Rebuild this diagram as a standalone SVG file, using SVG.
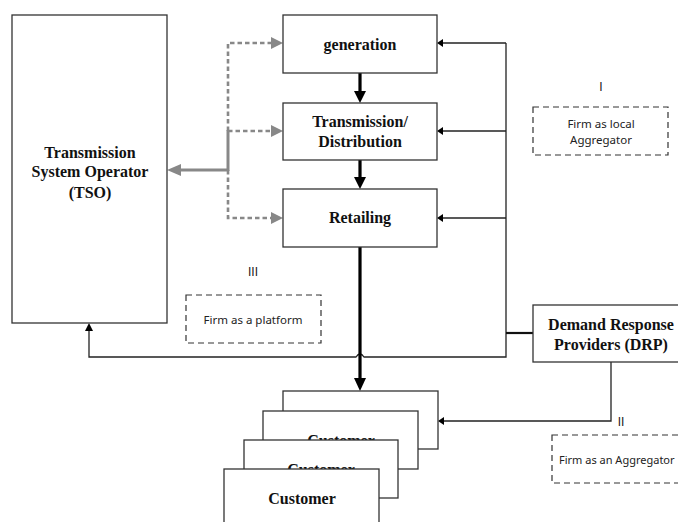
<svg xmlns="http://www.w3.org/2000/svg" width="678" height="522" viewBox="0 0 678 522">
<style>
.box{fill:#fff;stroke:#333;stroke-width:1.3}
.dbox{fill:#fff;stroke:#333;stroke-width:1.2;stroke-dasharray:6 4}
.t{font-family:"Liberation Serif",serif;font-weight:bold;font-size:16px;fill:#111;text-anchor:middle}
.s{font-family:"Noto Sans","Open Sans",sans-serif;font-size:11.5px;fill:#222;text-anchor:middle}
.n{font-family:"Liberation Sans",Arial,sans-serif;font-size:12px;fill:#222;text-anchor:middle}
.sl{font-family:"Noto Sans","Open Sans",sans-serif;font-size:11px;fill:#222;text-anchor:start}
.thin{fill:none;stroke:#222;stroke-width:1.3}
.thick{fill:none;stroke:#000;stroke-width:3.2}
.gd{fill:none;stroke:#888;stroke-width:2.6;stroke-dasharray:4.5 3}
.gs{fill:none;stroke:#888;stroke-width:3}
</style>
<rect width="678" height="522" fill="#fff"/>
<g id="connectors">
  <path class="gd" d="M228,131 V43 H271"/>
  <path class="gd" d="M228,131 H271"/>
  <path class="gd" d="M228,170 V218 H271"/>
  <path class="gs" d="M228,130 V171"/>
  <polygon points="271,37 283,43 271,49" fill="#888"/>
  <polygon points="271,125 283,131 271,137" fill="#888"/>
  <polygon points="271,212 283,218 271,224" fill="#888"/>
  <path class="gs" d="M229,170 H181"/>
  <polygon points="181,164 167,170 181,176" fill="#888"/>
  <path class="thick" d="M360,73 V91"/>
  <polygon points="354,91 366,91 360,103" fill="#000"/>
  <path class="thick" d="M360,160 V177"/>
  <polygon points="354,177 366,177 360,189" fill="#000"/>
  <path class="thin" d="M506,43 V357 H364 Q360,351 356,357 H89 V331"/>
  <polygon points="85,331 93,331 89,323" fill="#000"/>
  <path class="thin" d="M506,43 H443"/>
  <path class="thin" d="M506,131 H443"/>
  <path class="thin" d="M506,218 H443"/>
  <polygon points="443,39 443,47 437,43" fill="#000"/>
  <polygon points="443,127 443,135 437,131" fill="#000"/>
  <polygon points="443,214 443,222 437,218" fill="#000"/>
  <path fill="none" stroke="#111" stroke-width="2.2" d="M506,333 H533"/>
  <path class="thin" d="M611,362 V421 H444"/>
  <polygon points="444,417 444,425 438,421" fill="#000"/>
  <path class="thick" d="M360,247 V378"/>
  <polygon points="354,378 366,378 360,391" fill="#000"/>
</g>
<g id="tso">
  <rect class="box" x="12" y="15" width="155" height="308"/>
  <text class="t" x="90" y="158">Transmission</text>
  <text class="t" x="90" y="177">System Operator</text>
  <text class="t" x="90" y="198">(TSO)</text>
</g>
<g id="generation">
  <rect class="box" x="283" y="15" width="154" height="58"/>
  <text class="t" x="360" y="50">generation</text>
</g>
<g id="transmission">
  <rect class="box" x="283" y="103" width="154" height="57"/>
  <text class="t" x="360" y="127">Transmission/</text>
  <text class="t" x="360" y="147">Distribution</text>
</g>
<g id="retailing">
  <rect class="box" x="283" y="189" width="154" height="58"/>
  <text class="t" x="360" y="223">Retailing</text>
</g>
<g id="drp">
  <rect class="box" x="533" y="305" width="157" height="57"/>
  <text class="t" x="611" y="330">Demand Response</text>
  <text class="t" x="611" y="350">Providers (DRP)</text>
</g>
<g id="customers">
  <g id="customer1">
    <rect class="box" x="283" y="391" width="155" height="58"/>
    <text class="t" x="360" y="426">Customer</text>
  </g>
  <g id="customer2">
    <rect class="box" x="263" y="411" width="155" height="58"/>
    <text class="t" x="341" y="446">Customer</text>
  </g>
  <g id="customer3">
    <rect class="box" x="244" y="440" width="154" height="58"/>
    <text class="t" x="321" y="475">Customer</text>
  </g>
  <g id="customer4">
    <rect class="box" x="224" y="469" width="155" height="60"/>
    <text class="t" x="302" y="504">Customer</text>
  </g>
</g>
<g id="label-I">
  <text class="n" x="601" y="91">I</text>
  <rect class="dbox" x="533" y="107" width="135" height="48"/>
  <text class="s" x="601" y="128">Firm as local</text>
  <text class="s" x="601" y="144">Aggregator</text>
</g>
<g id="label-III">
  <text class="n" x="253" y="276">III</text>
  <rect class="dbox" x="186" y="295" width="135" height="48"/>
  <text class="s" x="253" y="324">Firm as a platform</text>
</g>
<g id="label-II">
  <text class="n" x="621" y="426">II</text>
  <rect class="dbox" x="552" y="435" width="140" height="48"/>
  <text class="sl" x="559" y="464">Firm as an Aggregator</text>
</g>
</svg>
